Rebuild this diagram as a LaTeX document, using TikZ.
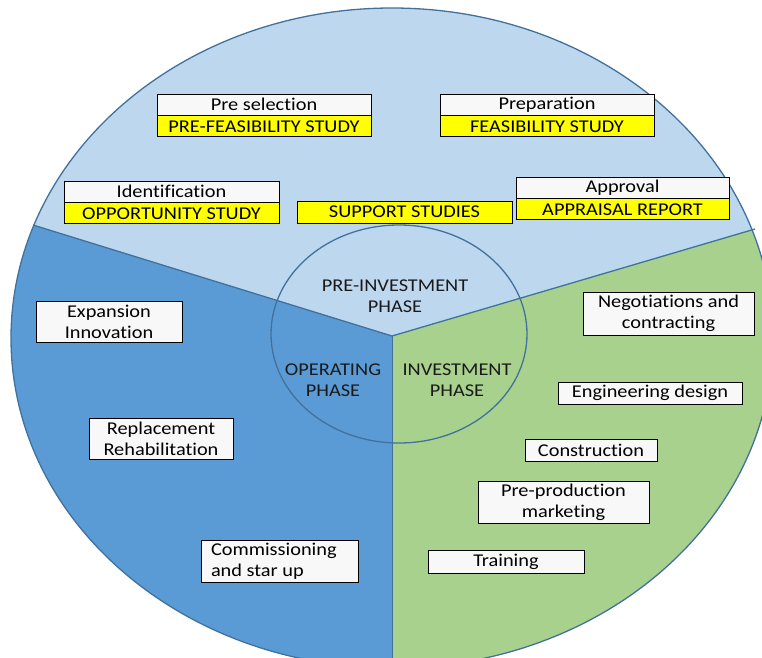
\documentclass[tikz,border=0pt]{standalone}
\usepackage{fontspec}
\setmainfont{Carlito}[Ligatures=NoCommon, FakeStretch=1.13]
\definecolor{lightblue}{HTML}{BDD7EE}
\definecolor{midblue}{HTML}{5B9BD5}
\definecolor{lgreen}{HTML}{A9D18E}
\definecolor{outline}{HTML}{41719C}
\definecolor{boxfill}{HTML}{F8F8F8}
\definecolor{yel}{HTML}{FFFF00}
\definecolor{phasetext}{HTML}{1A1A1A}
\newcommand\boxfont{\fontsize{18}{21}\selectfont}
\begin{document}
\begin{tikzpicture}[x=1pt,y=-1pt,
  wbox/.style={draw=black, line width=0.9pt, fill=boxfill, inner sep=0pt, align=center, font=\boxfont, text=black},
  ybox/.style={wbox, fill=yel},
  phase/.style={align=center, font=\boxfont, text=phasetext, inner sep=0pt},
  edge/.style={draw=outline, line width=1.3pt}]
\useasboundingbox (0,0) rectangle (762,657);
\clip (0,0) rectangle (762,657);
% pie
\coordinate (c) at (392,336);
\coordinate (pl) at (33,225);
\coordinate (pr) at (755,229);
\coordinate (pb) at (392,668);
\begin{scope}
  \clip (392,338) ellipse [x radius=381, y radius=330];
  \fill[lightblue] (-10,-10) rectangle (800,700);
  \fill[midblue] (c) -- (-326,114) -- (-400,800) -- (392,800) -- cycle;
  \fill[lgreen] (c) -- (1118,122) -- (1200,800) -- (392,800) -- cycle;
\end{scope}
\draw[edge] (392,338) ellipse [x radius=381, y radius=330];
\draw[edge] (c) -- (pl);
\draw[edge] (c) -- (pr);
\draw[draw=outline, line width=0.8pt] (c) -- (pb);
% inner circle
\draw[edge] (399,334) ellipse [x radius=128, y radius=109];
% phase labels
\node[phase] (pre) at (395,296) {PRE-INVESTMENT\\PHASE};
\node[phase] (op) at (333,380) {OPERATING\\PHASE};
\node[phase] (inv) at (457,380) {INVESTMENT\\PHASE};
% pre-investment boxes
\node[wbox, minimum width=214pt, minimum height=21pt] (presel) at (264,104.5) {Pre selection};
\node[ybox, minimum width=214pt, minimum height=21pt, anchor=north] (prefeas) at (presel.south) {PRE-FEASIBILITY STUDY};
\node[wbox, minimum width=214pt, minimum height=21pt] (prep) at (547,104.5) {Preparation};
\node[ybox, minimum width=214pt, minimum height=21pt, anchor=north] (feas) at (prep.south) {FEASIBILITY STUDY};
\node[wbox, minimum width=215pt, minimum height=21pt] (ident) at (171.5,191.5) {Identification};
\node[ybox, minimum width=215pt, minimum height=21pt, anchor=north] (opp) at (ident.south) {OPPORTUNITY STUDY};
\node[ybox, minimum width=215pt, minimum height=22pt] (supp) at (404.5,212) {SUPPORT STUDIES};
\node[wbox, minimum width=213pt, minimum height=21pt] (appr) at (622.5,187.5) {Approval};
\node[ybox, minimum width=213pt, minimum height=21pt, anchor=north] (apprep) at (appr.south) {APPRAISAL REPORT};
% operating boxes
\node[wbox, minimum width=146pt, minimum height=41pt] (exp) at (109,321.5) {Expansion\\Innovation};
\node[wbox, minimum width=144pt, minimum height=41pt] (repl) at (161,438.5) {Replacement\\Rehabilitation};
\node[wbox, minimum height=42pt, text width=137pt, inner xsep=10pt, align=flush left] (comm) at (279.5,561) {Commissioning\\and star up};
% investment boxes
\node[wbox, minimum width=171pt, minimum height=43pt] (neg) at (668.5,313.5) {Negotiations and\\contracting};
\node[wbox, minimum width=184pt, minimum height=22pt] (eng) at (650,393) {Engineering design};
\node[wbox, minimum width=132pt, minimum height=22pt] (cons) at (591,450) {Construction};
\node[wbox, minimum width=171pt, minimum height=42pt] (ppm) at (563.5,502) {Pre-production\\marketing};
\node[wbox, minimum width=156pt, minimum height=23pt] (train) at (506,561.5) {Training};
\end{tikzpicture}
\end{document}
